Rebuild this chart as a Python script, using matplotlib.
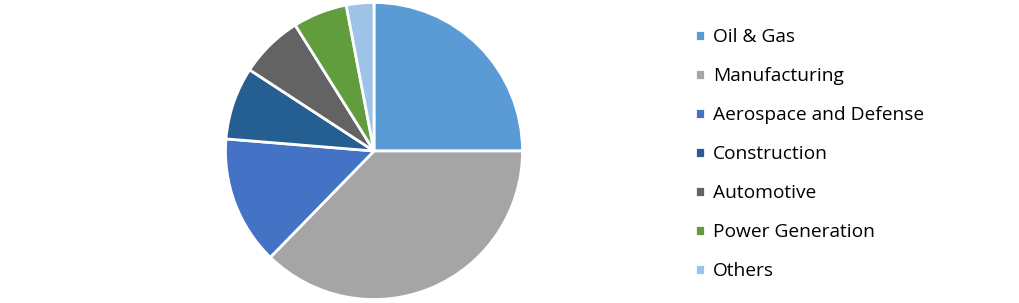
import matplotlib.pyplot as plt

# shares by end-use industry (%)
labels = ['Oil & Gas', 'Manufacturing', 'Aerospace and Defense', 'Construction',
          'Automotive', 'Power Generation', 'Others']
shares = [25.0, 37.3, 14.0, 7.9, 6.9, 5.9, 3.0]
colors = ['#5B9BD5', '#A5A5A5', '#4472C4', '#255E91', '#636363', '#629D3D', '#9DC3E6']

W, H = 1020, 303
fig = plt.figure(figsize=(W / 100, H / 100), dpi=100)

# pie centre ~ (374, 151) px, radius ~150 px
cx, cy, r = 374, 151, 150
ax = fig.add_axes([(cx - r) / W, (H - cy - r) / H, 2 * r / W, 2 * r / H])
wedges, _ = ax.pie(shares, colors=colors, startangle=90, counterclock=False,
                   radius=1, wedgeprops=dict(edgecolor='white', linewidth=2))
ax.set_xlim(-1.01, 1.01)
ax.set_ylim(-1.01, 1.01)
ax.set_aspect('equal')

fig.legend(wedges, labels, loc='upper left', bbox_to_anchor=(695 / W, 1 - 28 / H),
           frameon=False, prop={'family': 'Open Sans', 'size': 13.8},
           handlelength=0.5, handleheight=0.5, handletextpad=0.45,
           labelspacing=1.1, borderaxespad=0, borderpad=0)

fig.savefig('out.png', dpi=100, facecolor='white')
